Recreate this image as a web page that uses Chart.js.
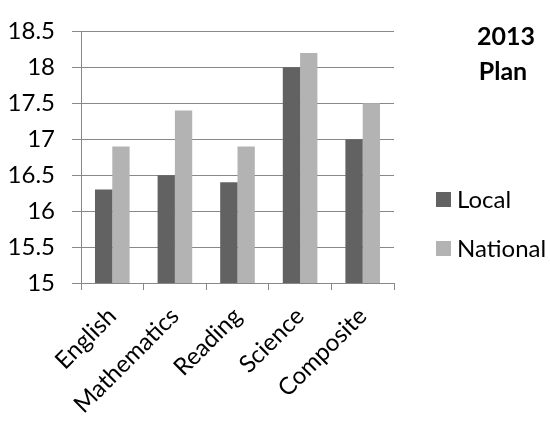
<!DOCTYPE html>
<html>
<head>
<meta charset="utf-8">
<script src="https://cdn.jsdelivr.net/npm/chart.js@4.4.1/dist/chart.umd.min.js"></script>
<style>
  html, body { margin: 0; padding: 0; background: #fff; }
  #wrap { width: 550px; height: 423px; position: relative; }
</style>
</head>
<body>
<div id="wrap"><canvas id="score_graph"></canvas></div>
<script>
// subjects and scores
const subjects      = ["English", "Mathematics", "Reading", "Science", "Composite"];
const local_scores  = [16.3, 16.5, 16.4, 18.0, 17.0];
const nation_scores = [16.9, 17.4, 16.9, 18.2, 17.5];
const title_lines   = ["2013", "Plan"];
const y_min = 15, y_max = 18.5, y_step = 0.5;

const FONT = "Lato";

// title and legend at the right side
const side_plugin = {
    id: "side_plugin",
    afterDraw(chart) {
        const ctx = chart.ctx;
        ctx.save();
        ctx.fillStyle = "#000";
        ctx.textAlign = "center";
        ctx.textBaseline = "alphabetic";
        ctx.font = "bold 25px " + FONT;
        ctx.fillText(title_lines[0], 506, 45);
        ctx.fillText(title_lines[1], 503, 80);

        ctx.font = "24px " + FONT;
        ctx.textAlign = "left";
        const ys = [192, 241];
        chart.data.datasets.forEach(function (ds, i) {
            ctx.fillStyle = ds.backgroundColor;
            ctx.fillRect(436, ys[i], 15, 15);
            ctx.fillStyle = "#000";
            ctx.fillText(ds.label, 457, ys[i] + 16);
        });
        ctx.restore();
    }
};

const ctx = document.getElementById("score_graph").getContext("2d");
const myChart = new Chart(ctx, {
    type: "bar",
    data: {
        labels: subjects,
        datasets: [
            { label: "Local",    data: local_scores,  backgroundColor: "#626262" },
            { label: "National", data: nation_scores, backgroundColor: "#b3b3b3" }
        ]
    },
    options: {
        responsive: true,
        maintainAspectRatio: false,
        animation: false,
        layout: { padding: { left: 0, right: 156, top: 18, bottom: 0 } },
        datasets: { bar: { barPercentage: 1, categoryPercentage: 0.553 } },
        plugins: {
            legend: { display: false },
            tooltip: { enabled: false }
        },
        scales: {
            x: {
                grid: {
                    offset: true,
                    drawOnChartArea: false,
                    drawTicks: true,
                    tickLength: 7,
                    color: "#888"
                },
                border: { color: "#888", width: 1 },
                ticks: {
                    minRotation: 45,
                    maxRotation: 45,
                    padding: 12,
                    color: "#000",
                    font: { family: FONT, size: 24 }
                },
                afterFit: function (scale) { scale.height = 140; }
            },
            y: {
                min: y_min,
                max: y_max,
                grid: { color: "#888", tickLength: 9 },
                border: { color: "#888", width: 1 },
                ticks: {
                    stepSize: y_step,
                    padding: 17,
                    color: "#000",
                    font: { family: FONT, size: 24 },
                    callback: function (v) { return String(v); }
                },
                afterFit: function (scale) { scale.width = 81; }
            }
        }
    },
    plugins: [side_plugin]
});
</script>
</body>
</html>
